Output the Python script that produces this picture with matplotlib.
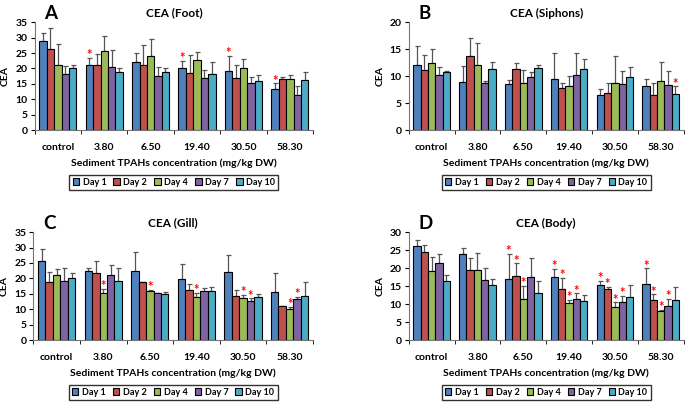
import numpy as np
import matplotlib.pyplot as plt

###########################################################
# data

categories = ['control', '3.80', '6.50', '19.40', '30.50', '58.30']
days = ['Day 1', 'Day 2', 'Day 4', 'Day 7', 'Day 10']
day_colors = ['#4F81BD', '#C0504D', '#9BBB59', '#8064A2', '#4BACC6']

# rows = categories, columns = days
foot_mean = [[29.0, 26.2, 21.0, 18.3, 20.1],
             [21.0, 21.0, 25.7, 20.5, 18.8],
             [22.2, 21.0, 23.9, 17.6, 18.8],
             [20.3, 18.5, 22.9, 16.9, 18.2],
             [19.2, 16.9, 20.3, 15.3, 15.9],
             [13.4, 16.5, 16.5, 11.4, 16.3]]
foot_err = [[2.5, 6.8, 6.8, 2.5, 0.9],
            [2.4, 3.8, 4.8, 5.5, 1.3],
            [2.8, 6.6, 5.5, 2.8, 1.5],
            [2.1, 6.0, 2.4, 2.5, 3.9],
            [4.8, 4.3, 2.8, 2.0, 1.9],
            [1.8, 0.8, 1.5, 2.9, 2.5]]
foot_sig = [(1, 0), (3, 0), (4, 0), (5, 0)]

siphon_mean = [[12.1, 11.1, 12.5, 10.2, 10.7],
               [8.9, 13.8, 12.1, 8.7, 11.4],
               [8.5, 11.4, 8.8, 9.9, 11.6],
               [9.5, 7.8, 8.1, 10.2, 11.4],
               [6.6, 6.9, 8.8, 8.6, 9.9],
               [8.1, 6.5, 9.1, 8.4, 6.7]]
siphon_err = [[3.5, 2.9, 2.5, 1.5, 0.2],
              [3.0, 3.2, 4.0, 0.4, 1.2],
              [0.7, 1.0, 2.3, 0.9, 0.5],
              [4.7, 1.0, 1.9, 4.1, 1.8],
              [1.0, 1.9, 4.9, 2.4, 1.8],
              [1.4, 2.2, 3.5, 2.6, 1.4]]
siphon_sig = [(5, 4)]

gill_mean = [[25.7, 18.7, 21.0, 19.3, 20.0],
             [22.3, 21.7, 15.2, 21.0, 19.3],
             [22.3, 18.9, 15.8, 15.2, 15.0],
             [19.8, 16.3, 14.1, 16.0, 16.0],
             [22.1, 14.2, 13.8, 12.6, 14.0],
             [15.6, 11.1, 10.0, 13.2, 14.4]]
gill_err = [[3.7, 3.3, 2.1, 4.2, 1.9],
            [1.2, 3.8, 1.5, 3.2, 4.0],
            [6.1, 0.1, 0.5, 0.2, 0.6],
            [5.0, 1.8, 1.1, 0.8, 1.3],
            [5.4, 1.9, 0.9, 0.9, 0.9],
            [6.1, 0.1, 0.8, 0.9, 4.5]]
gill_sig = [(1, 2), (2, 2), (3, 2), (4, 2), (4, 3), (5, 2), (5, 3)]

body_mean = [[26.2, 24.4, 19.3, 21.3, 16.5],
             [23.9, 19.4, 19.4, 16.7, 15.3],
             [17.0, 17.8, 11.3, 17.4, 13.1],
             [17.5, 14.1, 10.3, 11.4, 11.0],
             [15.2, 14.1, 9.3, 10.6, 12.1],
             [15.5, 11.2, 8.1, 9.4, 11.2]]
body_err = [[1.6, 1.9, 3.8, 2.6, 1.6],
            [1.6, 3.5, 4.8, 3.3, 1.8],
            [7.0, 3.5, 3.7, 5.3, 3.3],
            [2.3, 3.1, 0.9, 1.6, 1.4],
            [1.2, 0.6, 1.2, 1.7, 3.2],
            [4.4, 1.5, 0.3, 2.1, 3.5]]
body_sig = [(2, 0), (2, 1), (2, 2), (3, 0), (3, 1), (3, 2), (3, 3),
            (4, 0), (4, 1), (4, 2), (4, 3), (5, 0), (5, 1), (5, 2), (5, 3)]

###########################################################
# plotting

plt.rcParams['font.family'] = ['Lato', 'DejaVu Sans']
plt.rcParams['font.weight'] = 'bold'

fig = plt.figure(figsize=(6.94, 4.03), dpi=100)

def panel(rect, letter, title, mean, err, sig, ymax):
    ax = fig.add_axes(rect)
    mean = np.array(mean)
    err = np.array(err)
    n_cat, n_day = mean.shape
    group = 0.8
    w = group / n_day
    x = np.arange(n_cat)
    for j in range(n_day):
        xs = x - group / 2 + w * (j + 0.5)
        ax.bar(xs, mean[:, j], width=w, color=day_colors[j], edgecolor='black',
               linewidth=0.8, label=days[j], zorder=2)
        ax.errorbar(xs, mean[:, j], yerr=[np.zeros(n_cat), err[:, j]], fmt='none',
                    ecolor='#555555', elinewidth=0.9, capsize=1.8, capthick=0.9, zorder=1)
    # significance stars
    for (i, j) in sig:
        xs = i - group / 2 + w * (j + 0.5)
        ax.text(xs, mean[i, j] + err[i, j] - ymax * 0.03, '*', color='red',
                ha='center', va='bottom', fontsize=9.5, fontweight='bold')
    ax.set_xlim(-0.5, n_cat - 0.5)
    ax.set_ylim(0, ymax)
    ax.set_yticks(np.arange(0, ymax + 1, 5))
    ax.set_xticks(x)
    ax.set_xticklabels(categories)
    ax.set_xticks(np.arange(-0.5, n_cat, 1), minor=True)
    ax.tick_params(axis='x', which='major', length=0, labelsize=7.5, pad=9)
    ax.tick_params(axis='x', which='minor', length=3, direction='out')
    ax.tick_params(axis='y', labelsize=7.5, length=3, pad=2)
    for s in ['top', 'right']:
        ax.spines[s].set_visible(False)
    ax.spines['left'].set_color('#777777')
    ax.spines['bottom'].set_color('#777777')
    ax.set_ylabel('CEA', fontsize=7.5, fontweight='bold', labelpad=4)
    ax.set_xlabel('Sediment TPAHs concentration (mg/kg DW)', fontsize=7.5,
                  fontweight='bold', labelpad=5)
    ax.set_title(title, fontsize=8.5, fontweight='bold', pad=4)
    ax.text(0.035, 1.0, letter, transform=ax.transAxes, fontsize=13.5,
            fontweight='bold', va='bottom', ha='left')
    ax.legend(loc='upper center', bbox_to_anchor=(0.5, -0.37), ncol=5,
              fontsize=6.5, frameon=True, fancybox=False, edgecolor='black',
              handlelength=0.7, handleheight=0.7, handletextpad=0.4,
              columnspacing=0.8, borderpad=0.35)
    return ax

panel([0.050, 0.677, 0.401, 0.268], 'A', 'CEA (Foot)', foot_mean, foot_err, foot_sig, 35)
panel([0.589, 0.677, 0.396, 0.268], 'B', 'CEA (Siphons)', siphon_mean, siphon_err, siphon_sig, 20)
panel([0.048, 0.156, 0.403, 0.268], 'C', 'CEA (Gill)', gill_mean, gill_err, gill_sig, 35)
panel([0.589, 0.156, 0.396, 0.268], 'D', 'CEA (Body)', body_mean, body_err, body_sig, 30)

plt.savefig('out.png', dpi=100)
